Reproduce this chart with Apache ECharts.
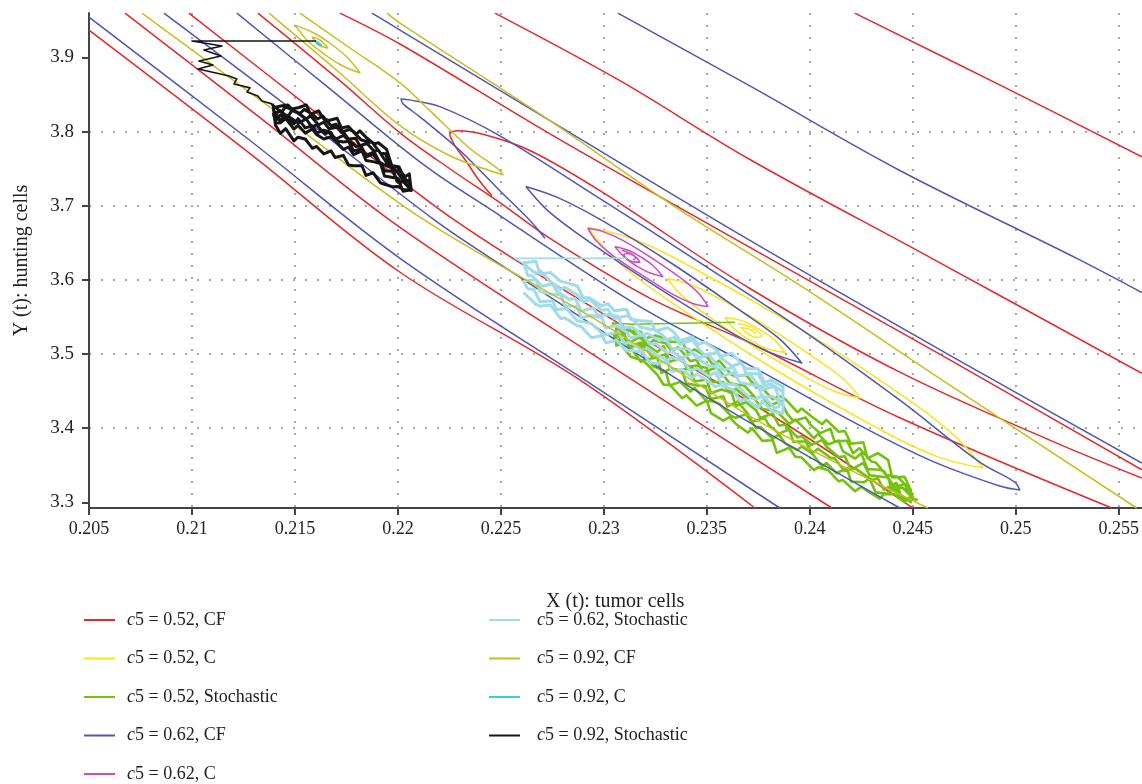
<!DOCTYPE html>
<html>
<head>
<meta charset="utf-8">
<script src="https://cdn.jsdelivr.net/npm/echarts@6/dist/echarts.min.js"></script>
<style>
  html, body { margin: 0; padding: 0; background: #fff; }
  #chart { width: 1142px; height: 784px; }
</style>
</head>
<body>
<div id="chart"></div>
<script>
// Phase-plane trajectories: X (t) tumor cells vs Y (t) hunting cells

const seriesNames = [
  'c5 = 0.52, CF', 'c5 = 0.52, C', 'c5 = 0.52, Stochastic',
  'c5 = 0.62, CF', 'c5 = 0.62, C', 'c5 = 0.62, Stochastic',
  'c5 = 0.92, CF', 'c5 = 0.92, C', 'c5 = 0.92, Stochastic'
];
const seriesColors = ['#e4292c', '#fbe31c', '#74c20c', '#4f57b3', '#cf4bc2', '#9fdbe8', '#c9bd1f', '#3fc9d9', '#151515'];

const yTicks = [3.3, 3.4, 3.5, 3.6, 3.7, 3.8, 3.9];

// c5 = 0.52, CF contour curves
const cf052Curves = [
  [[0.20500, 3.9370], [0.21282, 3.7704], [0.22010, 3.6103], [0.22883, 3.4651], [0.23733, 3.2923]],
  [[0.20675, 3.9599], [0.21330, 3.8189], [0.22010, 3.6708], [0.23078, 3.4758], [0.24107, 3.2923]],
  [[0.20985, 3.9599], [0.21621, 3.8216], [0.22277, 3.6802], [0.23126, 3.5323], [0.23951, 3.3938], [0.24500, 3.2923]],
  [[0.21320, 3.9599], [0.21718, 3.8687], [0.22010, 3.7984], [0.22252, 3.7499], [0.22495, 3.7042], [0.22738, 3.6560], [0.23223, 3.5754], [0.23709, 3.5148], [0.24437, 3.4140], [0.25466, 3.2923]],
  [[0.25612, 3.3327], [0.25165, 3.3839], [0.24437, 3.4755], [0.23709, 3.5884], [0.22981, 3.7203], [0.22641, 3.7745], [0.22422, 3.7957], [0.22291, 3.8011], [0.22252, 3.7970], [0.22277, 3.7809], [0.22330, 3.7607], [0.22388, 3.7365], [0.22456, 3.7136]],
  [[0.21718, 3.9599], [0.22010, 3.9182], [0.22738, 3.7970], [0.23709, 3.6439], [0.24680, 3.4920], [0.25612, 3.3439]],
  [[0.22471, 3.9599], [0.23078, 3.8687], [0.23709, 3.7624], [0.24592, 3.6291], [0.25612, 3.4740]],
  [[0.24218, 3.9599], [0.24922, 3.8630], [0.25612, 3.7661]]
];

// c5 = 0.52, C nested orbits
const c052Loops = [
  [[0.22922, 3.6708], [0.23150, 3.6544], [0.23456, 3.6127], [0.23942, 3.5359], [0.24413, 3.4511], [0.24684, 3.3946], [0.24840, 3.3466], [0.24612, 3.3623], [0.24311, 3.4027], [0.23820, 3.4808], [0.23350, 3.5655], [0.23078, 3.6221], [0.22922, 3.6708]],
  [[0.23306, 3.6019], [0.23418, 3.5938], [0.23568, 3.5736], [0.23806, 3.5346], [0.24034, 3.4929], [0.24170, 3.4646], [0.24243, 3.4409], [0.24131, 3.4484], [0.23981, 3.4686], [0.23743, 3.5077], [0.23515, 3.5494], [0.23383, 3.5777], [0.23306, 3.6019]],
  [[0.23587, 3.5494], [0.23675, 3.5447], [0.23750, 3.5339], [0.23820, 3.5211], [0.23879, 3.5023], [0.23791, 3.5070], [0.23716, 3.5178], [0.23646, 3.5306], [0.23587, 3.5494]],
  [[0.23650, 3.5413], [0.23718, 3.5359], [0.23767, 3.5238], [0.23738, 3.5225], [0.23684, 3.5306], [0.23665, 3.5359], [0.23709, 3.5332], [0.23738, 3.5279]]
];

// c5 = 0.52, stochastic path: horizontal lead-in, then the fluctuating cloud
const stoch052Lead = [[0.23636, 3.5427], [0.23136, 3.5400], [0.2304, 3.5420]];
const stoch052Cloud = [
  [0.2304, 3.5420], [0.2310, 3.5269], [0.2312, 3.5329], [0.2317, 3.5228], [0.2322, 3.5127], [0.2324, 3.5187],
  [0.2330, 3.5146], [0.2333, 3.5035], [0.2336, 3.5094], [0.2342, 3.4904], [0.2345, 3.4923], [0.2348, 3.4752],
  [0.2354, 3.4812], [0.2356, 3.4781], [0.2361, 3.4610], [0.2366, 3.4580], [0.2368, 3.4579], [0.2374, 3.4398],
  [0.2377, 3.4438], [0.2380, 3.4297], [0.2386, 3.4366], [0.2389, 3.4196], [0.2392, 3.4095], [0.2398, 3.4144],
  [0.2400, 3.4054], [0.2405, 3.3933], [0.2410, 3.3992], [0.2412, 3.3822], [0.2418, 3.3831], [0.2421, 3.3660],
  [0.2424, 3.3730], [0.2430, 3.3549], [0.2432, 3.3538], [0.2437, 3.3368], [0.2442, 3.3347], [0.2444, 3.3306],
  [0.2449, 3.3156],
  [0.2450, 3.3058], [0.2445, 3.3198], [0.2440, 3.3159], [0.2438, 3.3334], [0.2432, 3.3354], [0.2429, 3.3365],
  [0.2426, 3.3530], [0.2420, 3.3440], [0.2417, 3.3621], [0.2414, 3.3612], [0.2408, 3.3752], [0.2406, 3.3843],
  [0.2401, 3.3774], [0.2396, 3.3894], [0.2394, 3.3875], [0.2388, 3.4046], [0.2385, 3.4036], [0.2382, 3.4197],
  [0.2376, 3.4138], [0.2374, 3.4238], [0.2369, 3.4349], [0.2364, 3.4300], [0.2362, 3.4480], [0.2357, 3.4521],
  [0.2352, 3.4472], [0.2350, 3.4652], [0.2344, 3.4633], [0.2342, 3.4804], [0.2337, 3.4784], [0.2332, 3.4805],
  [0.2330, 3.4996], [0.2324, 3.4943], [0.2321, 3.5053], [0.2318, 3.5154], [0.2312, 3.5101], [0.2310, 3.5261],
  [0.2305, 3.5262],
  [0.2305, 3.5172], [0.2310, 3.5201], [0.2312, 3.5121], [0.2318, 3.4894], [0.2321, 3.4943], [0.2324, 3.4833],
  [0.2330, 3.4766], [0.2332, 3.4575], [0.2337, 3.4624], [0.2342, 3.4494], [0.2344, 3.4543], [0.2350, 3.4362],
  [0.2353, 3.4362], [0.2356, 3.4331], [0.2362, 3.4160], [0.2364, 3.4140], [0.2369, 3.4189], [0.2374, 3.3998],
  [0.2376, 3.4018], [0.2382, 3.3857], [0.2385, 3.3916], [0.2388, 3.3796], [0.2394, 3.3705], [0.2396, 3.3754],
  [0.2401, 3.3664], [0.2406, 3.3483], [0.2408, 3.3532], [0.2413, 3.3392], [0.2418, 3.3461], [0.2420, 3.3280],
  [0.2426, 3.3270], [0.2429, 3.3315], [0.2432, 3.3134], [0.2438, 3.3114], [0.2440, 3.3219], [0.2445, 3.3038],
  [0.2450, 3.3068],
  [0.2448, 3.3126], [0.2446, 3.3246], [0.2441, 3.3207], [0.2436, 3.3418], [0.2434, 3.3438], [0.2428, 3.3449],
  [0.2425, 3.3660], [0.2422, 3.3590], [0.2416, 3.3691], [0.2414, 3.3832], [0.2409, 3.3782], [0.2404, 3.3923],
  [0.2402, 3.3864], [0.2396, 3.4034], [0.2393, 3.4115], [0.2390, 3.4056], [0.2384, 3.4226], [0.2382, 3.4237],
  [0.2377, 3.4258], [0.2372, 3.4438], [0.2370, 3.4399], [0.2364, 3.4530], [0.2361, 3.4480], [0.2358, 3.4621],
  [0.2352, 3.4622], [0.2350, 3.4812], [0.2345, 3.4843], [0.2340, 3.4824], [0.2338, 3.4954], [0.2332, 3.4895],
  [0.2329, 3.5106], [0.2326, 3.5027], [0.2320, 3.5137], [0.2318, 3.5238], [0.2312, 3.5149], [0.2309, 3.5309],
  [0.2306, 3.5290],
  [0.2306, 3.5306], [0.2308, 3.5205], [0.2313, 3.5095], [0.2318, 3.5121], [0.2320, 3.4930], [0.2326, 3.4950],
  [0.2328, 3.4746], [0.2333, 3.4805], [0.2338, 3.4774], [0.2340, 3.4604], [0.2346, 3.4573], [0.2349, 3.4572],
  [0.2352, 3.4392], [0.2358, 3.4431], [0.2360, 3.4290], [0.2365, 3.4360], [0.2370, 3.4189], [0.2372, 3.4088],
  [0.2378, 3.4138], [0.2380, 3.4047], [0.2385, 3.3926], [0.2390, 3.3986], [0.2392, 3.3815], [0.2398, 3.3824],
  [0.2401, 3.3654], [0.2404, 3.3723], [0.2410, 3.3602], [0.2412, 3.3592], [0.2417, 3.3421], [0.2422, 3.3460],
  [0.2424, 3.3420], [0.2430, 3.3302], [0.2433, 3.3321], [0.2436, 3.3171], [0.2442, 3.3263], [0.2444, 3.3102],
  [0.2449, 3.3002],
  [0.2449, 3.3164], [0.2446, 3.3344], [0.2440, 3.3335], [0.2438, 3.3572], [0.2433, 3.3662], [0.2428, 3.3593],
  [0.2426, 3.3810], [0.2420, 3.3790], [0.2417, 3.3961], [0.2414, 3.3952], [0.2408, 3.4112], [0.2406, 3.4053],
  [0.2401, 3.4154], [0.2396, 3.4264], [0.2394, 3.4215], [0.2388, 3.4396], [0.2385, 3.4436], [0.2382, 3.4387],
  [0.2376, 3.4568], [0.2374, 3.4548], [0.2369, 3.4719], [0.2364, 3.4700], [0.2362, 3.4720], [0.2356, 3.4911],
  [0.2353, 3.4852], [0.2350, 3.4962], [0.2344, 3.5063], [0.2341, 3.5004], [0.2338, 3.5164], [0.2332, 3.5165],
  [0.2330, 3.5206], [0.2325, 3.5251], [0.2320, 3.5211], [0.2318, 3.5300], [0.2312, 3.5317], [0.2309, 3.5327],
  [0.2306, 3.5380],
  [0.2306, 3.5114], [0.2308, 3.5133], [0.2313, 3.4963], [0.2318, 3.4920], [0.2320, 3.4889], [0.2326, 3.4719],
  [0.2329, 3.4586], [0.2332, 3.4585], [0.2338, 3.4404], [0.2340, 3.4444], [0.2345, 3.4303], [0.2350, 3.4372],
  [0.2352, 3.4202], [0.2358, 3.4101], [0.2361, 3.4150], [0.2364, 3.4060], [0.2370, 3.3939], [0.2372, 3.3998],
  [0.2377, 3.3828], [0.2382, 3.3837], [0.2384, 3.3666], [0.2390, 3.3736], [0.2393, 3.3615], [0.2396, 3.3604],
  [0.2402, 3.3434], [0.2404, 3.3473], [0.2409, 3.3432], [0.2414, 3.3282], [0.2416, 3.3301], [0.2422, 3.3150],
  [0.2425, 3.3210], [0.2428, 3.3151], [0.2434, 3.3050], [0.2436, 3.3110], [0.2441, 3.3111], [0.2446, 3.3000],
  [0.2448, 3.3060], [0.24524, 3.3031]
];

// c5 = 0.62, CF contour curves
const cf062Curves = [
  [[0.20500, 3.9545], [0.21282, 3.7880], [0.22010, 3.6291], [0.22981, 3.4516], [0.23854, 3.2923]],
  [[0.20864, 3.9599], [0.21524, 3.8216], [0.22180, 3.6802], [0.22519, 3.6170], [0.23417, 3.4557], [0.24437, 3.2923]],
  [[0.21218, 3.9599], [0.21670, 3.8576], [0.22131, 3.7540], [0.22495, 3.6867], [0.22786, 3.6328], [0.23223, 3.5561], [0.23709, 3.4848], [0.24194, 3.4108], [0.24583, 3.3569], [0.24922, 3.3219], [0.25019, 3.3166], [0.24995, 3.3273], [0.24825, 3.3542], [0.24437, 3.4377], [0.23951, 3.5346], [0.23466, 3.6234], [0.22981, 3.7096], [0.22495, 3.7943], [0.22204, 3.8337], [0.22058, 3.8428], [0.22015, 3.8441], [0.22025, 3.8374], [0.22107, 3.8199], [0.22301, 3.7745], [0.22495, 3.7203], [0.22641, 3.6802], [0.22714, 3.6560]],
  [[0.22621, 3.7260], [0.22777, 3.7109], [0.22990, 3.6802], [0.23330, 3.6221], [0.23660, 3.5592], [0.23850, 3.5211], [0.23961, 3.4879], [0.23806, 3.5023], [0.23597, 3.5323], [0.23252, 3.5911], [0.22927, 3.6517], [0.22733, 3.6921], [0.22621, 3.7260]],
  [[0.21874, 3.9599], [0.22010, 3.9370], [0.22738, 3.8149], [0.23709, 3.6533], [0.24680, 3.4983], [0.25612, 3.3529]],
  [[0.23068, 3.9599], [0.23709, 3.8616], [0.24437, 3.7476], [0.25296, 3.6291], [0.25612, 3.5830]]
];

// c5 = 0.62, C nested orbits
const c062Loops = [
  [[0.22922, 3.6695], [0.22995, 3.6651], [0.23092, 3.6533], [0.23240, 3.6280], [0.23383, 3.6005], [0.23461, 3.5817], [0.23505, 3.5642], [0.23432, 3.5682], [0.23335, 3.5804], [0.23189, 3.6059], [0.23044, 3.6328], [0.22966, 3.6517], [0.22922, 3.6695]],
  [[0.23053, 3.6450], [0.23121, 3.6396], [0.23184, 3.6301], [0.23238, 3.6194], [0.23286, 3.6046], [0.23218, 3.6100], [0.23155, 3.6194], [0.23102, 3.6301], [0.23053, 3.6450]],
  [[0.23087, 3.6399], [0.23146, 3.6331], [0.23175, 3.6237], [0.23136, 3.6248], [0.23097, 3.6342], [0.23117, 3.6355], [0.23155, 3.6291], [0.23141, 3.6275]]
];

// c5 = 0.62, stochastic path: horizontal lead-in, then the fluctuating cloud
const stoch062Lead = [[0.23112, 3.6291], [0.22568, 3.6291], [0.2261, 3.622]];
const stoch062Cloud = [
  [0.2261, 3.622], [0.2267, 3.608], [0.2269, 3.6125], [0.2274, 3.598], [0.2279, 3.587], [0.2281, 3.590],
  [0.2287, 3.580], [0.2290, 3.570], [0.2293, 3.574], [0.2299, 3.559], [0.2302, 3.560], [0.2305, 3.5475],
  [0.2311, 3.5515], [0.2313, 3.549], [0.2318, 3.536], [0.2323, 3.533], [0.2325, 3.533], [0.2331, 3.5195],
  [0.2334, 3.5225], [0.2337, 3.513], [0.2343, 3.519], [0.2346, 3.507], [0.2349, 3.499], [0.2355, 3.502],
  [0.2357, 3.4945], [0.2362, 3.484], [0.2367, 3.4875], [0.2369, 3.474], [0.2375, 3.473], [0.2378, 3.456],
  [0.2381, 3.460], [0.2387, 3.449],
  [0.2387, 3.431], [0.2382, 3.443], [0.2377, 3.441], [0.2375, 3.457], [0.2369, 3.460], [0.2366, 3.4615],
  [0.2363, 3.475], [0.2357, 3.4695], [0.2354, 3.484], [0.2351, 3.484], [0.2345, 3.495], [0.2343, 3.501],
  [0.2338, 3.495], [0.2333, 3.5035], [0.2331, 3.5015], [0.2325, 3.514], [0.2322, 3.514], [0.2319, 3.526],
  [0.2313, 3.522], [0.2311, 3.5295], [0.2306, 3.5385], [0.2301, 3.535], [0.2299, 3.549], [0.2294, 3.552],
  [0.2289, 3.549], [0.2287, 3.564], [0.2281, 3.565], [0.2279, 3.580], [0.2274, 3.581], [0.2269, 3.5845],
  [0.2267, 3.601], [0.2261, 3.598],
  [0.2263, 3.588], [0.2266, 3.587], [0.2269, 3.5705], [0.2275, 3.572], [0.2277, 3.560], [0.2282, 3.561],
  [0.2287, 3.545], [0.2289, 3.544], [0.2294, 3.541], [0.2299, 3.528], [0.2301, 3.526], [0.2307, 3.5295],
  [0.2310, 3.5145], [0.2313, 3.516], [0.2319, 3.504], [0.2321, 3.508], [0.2326, 3.498], [0.2331, 3.4915],
  [0.2333, 3.4955], [0.2339, 3.490], [0.2342, 3.477], [0.2345, 3.481], [0.2351, 3.470], [0.2354, 3.475],
  [0.2357, 3.4605], [0.2363, 3.459], [0.2365, 3.4565], [0.2371, 3.441], [0.2374, 3.439], [0.2377, 3.444],
  [0.2383, 3.427], [0.2385, 3.429],
  [0.2385, 3.441], [0.2383, 3.456], [0.2377, 3.452], [0.2374, 3.461], [0.2371, 3.473], [0.2365, 3.4705],
  [0.2363, 3.482], [0.2358, 3.4785], [0.2353, 3.492], [0.2351, 3.499], [0.2346, 3.495], [0.2341, 3.507],
  [0.2339, 3.507], [0.2333, 3.5075], [0.2330, 3.5205], [0.2327, 3.518], [0.2321, 3.528], [0.2319, 3.525],
  [0.2314, 3.536], [0.2309, 3.5355], [0.2307, 3.5505], [0.2302, 3.553], [0.2297, 3.552], [0.2295, 3.562],
  [0.2289, 3.558], [0.2286, 3.575], [0.2283, 3.574], [0.2277, 3.585], [0.2275, 3.595], [0.2270, 3.5915],
  [0.2265, 3.606], [0.2263, 3.606],
  [0.2261, 3.623], [0.2267, 3.625], [0.2269, 3.6075], [0.2274, 3.610], [0.2279, 3.598], [0.2281, 3.597],
  [0.2287, 3.592], [0.2290, 3.576], [0.2293, 3.576], [0.2299, 3.565], [0.2302, 3.568], [0.2305, 3.5585],
  [0.2311, 3.5605], [0.2313, 3.547], [0.2318, 3.545], [0.2323, 3.544], [0.2325, 3.531], [0.2331, 3.5355],
  [0.2334, 3.5295], [0.2337, 3.518], [0.2343, 3.523], [0.2346, 3.513], [0.2349, 3.516], [0.2355, 3.505],
  [0.2357, 3.4965], [0.2362, 3.501], [0.2367, 3.4865], [0.2369, 3.480], [0.2375, 3.480], [0.2378, 3.461],
  [0.2381, 3.465], [0.2387, 3.456],
  [0.2387, 3.420], [0.2382, 3.422], [0.2377, 3.437], [0.2375, 3.427], [0.2369, 3.439], [0.2366, 3.4365],
  [0.2363, 3.451], [0.2357, 3.4585], [0.2354, 3.456], [0.2351, 3.463], [0.2345, 3.473], [0.2343, 3.468],
  [0.2338, 3.479], [0.2333, 3.4765], [0.2331, 3.4905], [0.2325, 3.487], [0.2322, 3.489], [0.2319, 3.502],
  [0.2313, 3.505], [0.2311, 3.5045], [0.2306, 3.5185], [0.2301, 3.515], [0.2299, 3.525], [0.2294, 3.522],
  [0.2289, 3.537], [0.2287, 3.538], [0.2281, 3.549], [0.2279, 3.548], [0.2274, 3.566], [0.2269, 3.5645],
  [0.2267, 3.567], [0.2261, 3.583]
];

// c5 = 0.92, CF contour curves
const cf092Curves = [
  [[0.20757, 3.9599], [0.21476, 3.8132], [0.22131, 3.6802], [0.22981, 3.5430], [0.23782, 3.4045], [0.24573, 3.2923]],
  [[0.21947, 3.9599], [0.22010, 3.9464], [0.22738, 3.8149], [0.23335, 3.7004], [0.23951, 3.5928], [0.24680, 3.4579], [0.25587, 3.2923]],
  [[0.21374, 3.9599], [0.21718, 3.8791], [0.22010, 3.8081], [0.22252, 3.7674], [0.22447, 3.7472], [0.22510, 3.7419], [0.22485, 3.7499], [0.22350, 3.7772], [0.22155, 3.8283], [0.22010, 3.8657], [0.21767, 3.9128], [0.21524, 3.9599]],
  [[0.21500, 3.9437], [0.21592, 3.9330], [0.21675, 3.9182], [0.21752, 3.9007], [0.21816, 3.8791], [0.21723, 3.8899], [0.21641, 3.9047], [0.21563, 3.9222], [0.21500, 3.9437]],
  [[0.21583, 3.9276], [0.21621, 3.9236], [0.21660, 3.9128], [0.21617, 3.9168], [0.21583, 3.9276]]
];

// c5 = 0.92, C orbit
const c092Path = [[0.21602, 3.9222], [0.21612, 3.9195], [0.21626, 3.9168], [0.21607, 3.9182]];

// c5 = 0.92, stochastic path: horizontal lead-in and descent, then the fluctuating cloud
const stoch092Lead = [
  [0.21602, 3.9222], [0.21000, 3.9222], [0.21146, 3.9155], [0.21058, 3.9101], [0.21141, 3.9020], [0.21034, 3.8953],
  [0.21102, 3.8899], [0.21029, 3.8845], [0.21117, 3.8791], [0.21180, 3.8751], [0.21218, 3.8711], [0.21204, 3.8643],
  [0.21282, 3.8590], [0.21267, 3.8536], [0.21320, 3.8482], [0.21340, 3.8414], [0.21388, 3.8374]
];
const stoch092Cloud = [
  [0.21388, 3.8374],
  [0.21395, 3.8347], [0.21435, 3.8262], [0.21455, 3.8337], [0.2149, 3.8285], [0.21525, 3.8245], [0.21545, 3.8300],
  [0.21585, 3.8235], [0.2161, 3.8170], [0.21635, 3.8210], [0.21675, 3.8080], [0.2170, 3.8100], [0.21725, 3.7990],
  [0.21765, 3.8030], [0.21785, 3.8000], [0.2182, 3.7890], [0.21855, 3.7860], [0.21875, 3.7855], [0.21915, 3.7710],
  [0.2194, 3.7700], [0.21965, 3.7522], [0.22005, 3.7527], [0.2203, 3.7377], [0.22055, 3.7307],
  [0.22065, 3.7209], [0.2203, 3.7319], [0.21995, 3.7329], [0.21975, 3.7504], [0.21935, 3.7550], [0.2191, 3.7590],
  [0.21885, 3.7725], [0.21845, 3.7680], [0.2182, 3.7810], [0.21795, 3.7800], [0.21755, 3.7900], [0.21735, 3.7950],
  [0.2170, 3.7900], [0.21665, 3.7990], [0.21645, 3.7970], [0.21605, 3.8090], [0.2158, 3.8065], [0.21555, 3.8170],
  [0.21515, 3.8115], [0.21495, 3.8155], [0.2146, 3.8219], [0.21425, 3.8154], [0.21405, 3.8259],
  [0.21405, 3.8116], [0.2143, 3.8121], [0.21455, 3.8176], [0.21495, 3.8035], [0.21515, 3.8085], [0.2155, 3.7980],
  [0.21585, 3.8035], [0.21605, 3.7960], [0.2164, 3.7900], [0.21675, 3.7930], [0.21695, 3.7880], [0.21735, 3.7760],
  [0.2176, 3.7790], [0.21785, 3.7690], [0.21825, 3.7740], [0.21845, 3.7610], [0.2188, 3.7595], [0.21915, 3.7570],
  [0.21935, 3.7400], [0.21975, 3.7381], [0.2200, 3.7366], [0.22025, 3.7196], [0.22065, 3.7216],
  [0.22055, 3.7345], [0.22035, 3.7305], [0.21995, 3.7465], [0.2197, 3.7510], [0.21945, 3.7580], [0.21905, 3.7750],
  [0.21885, 3.7735], [0.2185, 3.7840], [0.21815, 3.7810], [0.21795, 3.7910], [0.2176, 3.7900], [0.21725, 3.8030],
  [0.21705, 3.8060], [0.21665, 3.8040], [0.2164, 3.8130], [0.21615, 3.8090], [0.21575, 3.8215], [0.21555, 3.8170],
  [0.2152, 3.8245], [0.21485, 3.8285], [0.21465, 3.8195], [0.2143, 3.8280], [0.21395, 3.8235],
  [0.21405, 3.8148], [0.2143, 3.8223], [0.21455, 3.8178], [0.21495, 3.8105], [0.21515, 3.8175], [0.2155, 3.8050],
  [0.21585, 3.8075], [0.21605, 3.7980], [0.2164, 3.8020], [0.21675, 3.7990], [0.21695, 3.7880], [0.21735, 3.7860],
  [0.2176, 3.7870], [0.21785, 3.7740], [0.21825, 3.7770], [0.21845, 3.7660], [0.2188, 3.7695], [0.21915, 3.7570],
  [0.21935, 3.7470], [0.21975, 3.7473], [0.2200, 3.7318], [0.22025, 3.7328], [0.22065, 3.7208],
  [0.22055, 3.7430], [0.22035, 3.7390], [0.21995, 3.7530], [0.2197, 3.7545], [0.21945, 3.7760], [0.21905, 3.7850],
  [0.21885, 3.7835], [0.2185, 3.7910], [0.21815, 3.8010], [0.21795, 3.7960], [0.2176, 3.8070], [0.21725, 3.8050],
  [0.21705, 3.8180], [0.21665, 3.8150], [0.2164, 3.8170], [0.21615, 3.8280], [0.21575, 3.8235], [0.21555, 3.8360],
  [0.2152, 3.8325], [0.21485, 3.8305], [0.21465, 3.8360], [0.2143, 3.8345], [0.21395, 3.8320],
  [0.21405, 3.8090], [0.2143, 3.7975], [0.21455, 3.8040], [0.21495, 3.7875], [0.21515, 3.7925], [0.2155, 3.7900],
  [0.21585, 3.7775], [0.21605, 3.7800], [0.2164, 3.7700], [0.21675, 3.7740], [0.21695, 3.7650], [0.21735, 3.7680],
  [0.2176, 3.7550], [0.21785, 3.7540], [0.21825, 3.7540], [0.21845, 3.7410], [0.2188, 3.7445], [0.21915, 3.7310],
  [0.21935, 3.7290], [0.21975, 3.7255], [0.2200, 3.7260], [0.22025, 3.7220], [0.22065, 3.7205], [0.22058, 3.7284]
];

// each group: curves drawn with the series colour, with one line width per curve
const groups = [
  { curves: cf052Curves, smooth: 0.35, widths: [1.5] },
  { curves: c052Loops, smooth: 0.4, widths: [1.5] },
  { curves: [stoch052Lead, stoch052Cloud], smooth: false, widths: [1.5, 2.6] },
  { curves: cf062Curves, smooth: 0.35, widths: [1.5] },
  { curves: c062Loops, smooth: 0.4, widths: [1.5] },
  { curves: [stoch062Lead, stoch062Cloud], smooth: false, widths: [1.6, 3] },
  { curves: cf092Curves, smooth: 0.35, widths: [1.5] },
  { curves: [c092Path], smooth: 0.4, widths: [2.5] },
  { curves: [stoch092Lead, stoch092Cloud], smooth: false, widths: [1.6, 3] }
];

const serifFont = "'Liberation Serif', 'DejaVu Serif', serif";

const series = [];
groups.forEach((g, i) => {
  g.curves.forEach((curve, j) => {
    series.push({
      type: 'line',
      name: seriesNames[i],
      data: curve,
      smooth: g.smooth,
      symbol: 'none',
      clip: true,
      silent: true,
      animation: false,
      itemStyle: { color: seriesColors[i] },
      lineStyle: { color: seriesColors[i], width: g.widths[Math.min(j, g.widths.length - 1)], join: 'round' }
    });
  });
});

const legendText = {
  fontFamily: serifFont, fontSize: 18, color: '#222', lineHeight: 18,
  rich: {
    i: { fontFamily: serifFont, fontSize: 18, fontStyle: 'italic', color: '#222', lineHeight: 18 },
    n: { fontFamily: serifFont, fontSize: 18, color: '#222', lineHeight: 18 }
  }
};
const legendFormatter = name => '{i|' + name.charAt(0) + '}{n|' + name.slice(1) + '}';

const chart = echarts.init(document.getElementById('chart'), null, { renderer: 'canvas' });
chart.setOption({
  animation: false,
  backgroundColor: '#fff',
  grid: { left: 89, right: 0, top: 13, bottom: 276, containLabel: false },
  xAxis: {
    type: 'value', min: 0.205, max: 0.2561, interval: 0.005,
    name: 'X (t): tumor cells', nameLocation: 'middle', nameGap: 84,
    nameTextStyle: { fontFamily: serifFont, fontSize: 20, color: '#222' },
    axisLine: { show: true, onZero: false, lineStyle: { color: '#444', width: 2 } },
    axisTick: { show: true, length: 7, lineStyle: { color: '#444', width: 2 } },
    axisLabel: {
      showMaxLabel: false, margin: 12, fontFamily: serifFont, fontSize: 18, color: '#222',
      formatter: v => String(parseFloat(v.toFixed(4)))
    },
    splitLine: { show: true, showMaxLine: false, lineStyle: { type: [2, 10], color: '#8a8a8a', width: 1.5 } }
  },
  yAxis: {
    type: 'value', min: 3.2923, max: 3.96,
    name: 'Y (t): hunting cells', nameLocation: 'middle', nameGap: 57,
    nameTextStyle: { fontFamily: serifFont, fontSize: 20, color: '#222' },
    axisLine: { show: true, onZero: false, lineStyle: { color: '#444', width: 2 } },
    axisTick: { show: true, length: 7, customValues: yTicks, lineStyle: { color: '#444', width: 2 } },
    axisLabel: {
      customValues: yTicks, margin: 15,
      fontFamily: serifFont, fontSize: 19, color: '#222',
      formatter: v => v.toFixed(1)
    },
    splitLine: { show: true, showMinLine: false, showMaxLine: false, lineStyle: { type: [2, 10], color: '#8a8a8a', width: 1.5 } }
  },
  legend: [
    {
      data: seriesNames.slice(0, 5), orient: 'vertical', left: 84, top: 611, padding: 0,
      icon: 'rect', itemWidth: 31, itemHeight: 2, itemGap: 20.5, selectedMode: false,
      formatter: legendFormatter,
      textStyle: Object.assign({ padding: [0, 0, 0, 7] }, legendText)
    },
    {
      data: seriesNames.slice(5), orient: 'vertical', left: 489, top: 611, padding: 0,
      icon: 'rect', itemWidth: 31, itemHeight: 2, itemGap: 20.5, selectedMode: false,
      formatter: legendFormatter,
      textStyle: Object.assign({ padding: [0, 0, 0, 12] }, legendText)
    }
  ],
  series: series
});
</script>
</body>
</html>
